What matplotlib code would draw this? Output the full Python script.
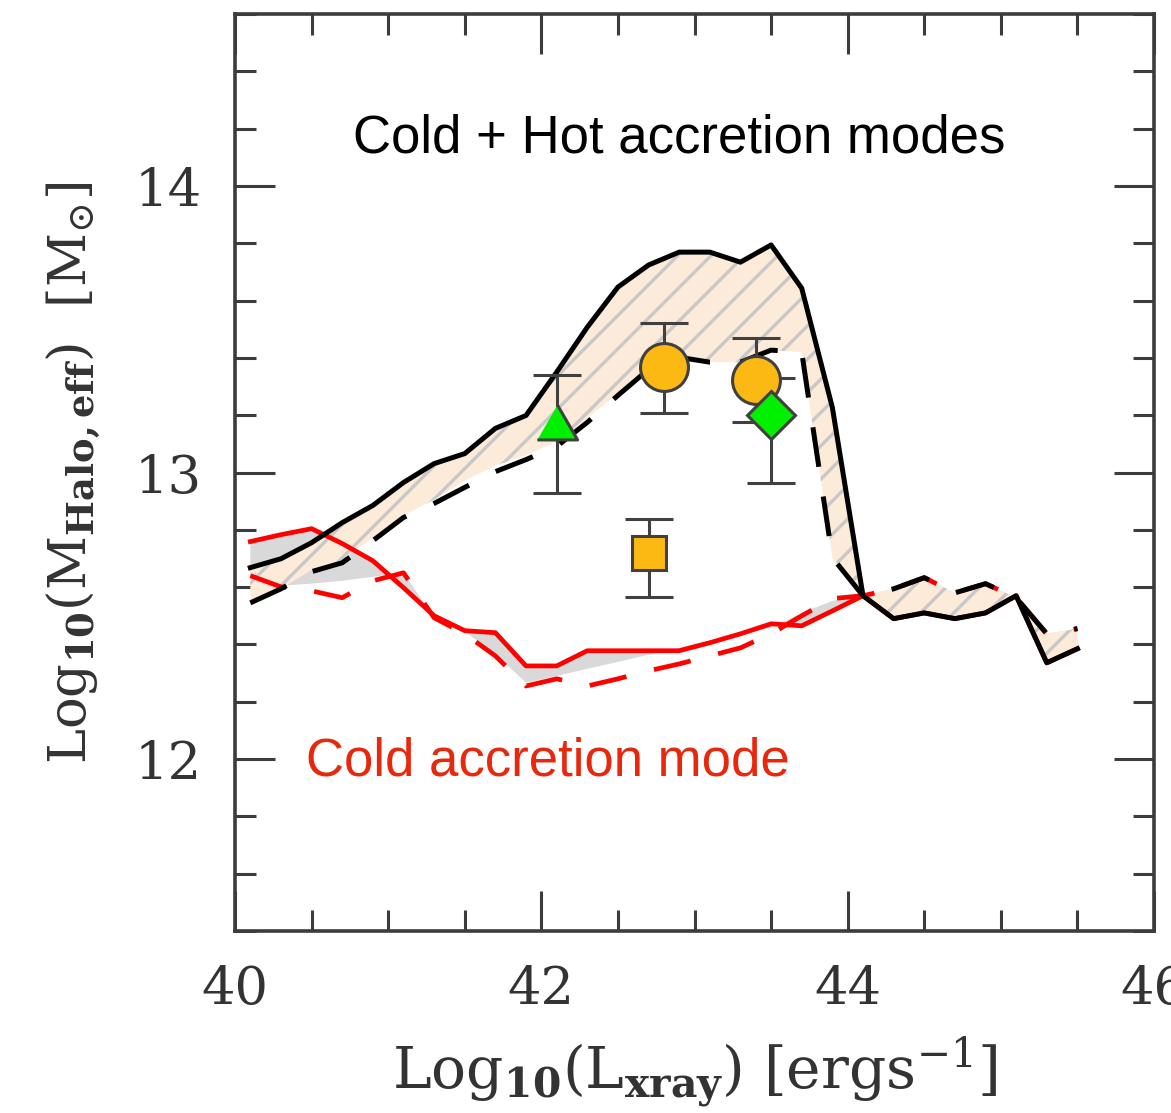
import matplotlib
matplotlib.use('Agg')
import matplotlib.pyplot as plt
from matplotlib.ticker import MultipleLocator

plt.rcParams['font.family'] = ['DejaVu Serif']
plt.rcParams['mathtext.fontset'] = 'dejavuserif'
plt.rcParams['hatch.linewidth'] = 2.4
plt.rcParams['hatch.color'] = '#c8c8c8'

# ---- data ----
log_lx = [40.1, 40.3, 40.5, 40.7, 40.9, 41.1, 41.3, 41.5, 41.7, 41.9,
          42.1, 42.3, 42.5, 42.7, 42.9, 43.1, 43.3, 43.5, 43.7, 43.9,
          44.1, 44.3, 44.5, 44.7, 44.9, 45.1, 45.3, 45.5]

# Cold + Hot accretion modes (upper: solid, lower: dashed)
hot_upper = [12.668, 12.699, 12.755, 12.825, 12.885, 12.965, 13.031, 13.066, 13.154, 13.199,
             13.350, 13.507, 13.647, 13.724, 13.769, 13.769, 13.734, 13.794, 13.643, 13.227,
             12.570, 12.490, 12.510, 12.490, 12.510, 12.570, 12.336, 12.385]
hot_lower = [12.545, 12.594, 12.654, 12.685, 12.762, 12.843, 12.892, 12.948, 13.003, 13.045,
             13.091, 13.175, 13.269, 13.360, 13.402, 13.385, 13.385, 13.427, 13.420, 12.703,
             12.570, 12.594, 12.633, 12.580, 12.612, 12.563, 12.437, 12.455]
# lower edge of the hatched band as painted (slightly smoother than the dashed line)
hot_band_lower = [12.545, 12.594, 12.660, 12.695, 12.772, 12.850, 12.905, 12.972, 13.024, 13.060,
                  13.108, 13.190, 13.275, 13.360, 13.402, 13.385, 13.385, 13.427, 13.420, 12.703,
                  12.570, 12.594, 12.633, 12.580, 12.612, 12.563, 12.437, 12.455]

# Cold accretion mode (upper: solid, lower: dashed)
cold_upper = [12.759, 12.783, 12.804, 12.752, 12.692, 12.598, 12.500, 12.448, 12.441, 12.325,
              12.325, 12.378, 12.378, 12.378, 12.378, 12.406, 12.437, 12.472, 12.465, 12.517,
              12.570, 12.490, 12.510, 12.490, 12.510, 12.570, 12.336, 12.385]
cold_lower = [12.640, 12.601, 12.587, 12.563, 12.622, 12.650, 12.493, 12.437, 12.360, 12.255,
              12.280, 12.255, 12.280, 12.308, 12.332, 12.360, 12.388, 12.437, 12.500, 12.560,
              12.570, 12.594, 12.633, 12.580, 12.612, 12.563, 12.437, 12.455]
# lower edge of the grey band as painted
cold_band_lower = [12.640, 12.605, 12.612, 12.622, 12.636, 12.650, 12.493, 12.445, 12.367, 12.266,
                   12.290, 12.315, 12.339, 12.364, 12.388, 12.413, 12.434, 12.458, 12.510, 12.552,
                   12.570, 12.594, 12.633, 12.580, 12.612, 12.563, 12.437, 12.455]

# Observational points
obs_x = [42.10, 42.80, 42.70, 43.40, 43.50]
obs_y = [13.177, 13.368, 12.720, 13.322, 13.199]
obs_err_lo = [0.250, 0.161, 0.154, 0.147, 0.237]
obs_err_hi = [0.163, 0.152, 0.119, 0.147, 0.130]
obs_marker = ['tri', 'o', 's', 'o', 'D']
obs_color = ['#00f000', '#fdb913', '#fdb913', '#fdb913', '#00f000']
obs_size = [29, 34.5, 24.5, 34.5, 24]

text_top = 'Cold + Hot accretion modes'
text_cold = 'Cold accretion mode'

# ---- figure ----
W, H = 1171, 1113
fig = plt.figure(figsize=(W / 100, H / 100), dpi=100)
ax = fig.add_axes([235 / W, 1 - 931 / H, (1154 - 235) / W, (931 - 14) / H])

ax.fill_between(log_lx, cold_upper, cold_band_lower, facecolor='#d9d9d9',
                edgecolor='none', linewidth=0, zorder=1)
ax.fill_between(log_lx, hot_upper, hot_band_lower, facecolor='#fcebd9',
                edgecolor='#c8c8c8', hatch='/', linewidth=0, zorder=2)

dash = (0, (8, 6))
ax.plot(log_lx, cold_upper, color='#ff0000', lw=3.4, zorder=3)
ax.plot(log_lx, cold_lower, color='#ff0000', lw=3.4, ls=dash, zorder=3)
ax.plot(log_lx, hot_upper, color='black', lw=3.6, zorder=4)
ax.plot(log_lx, hot_lower, color='black', lw=3.6, ls=dash, zorder=4)

tri = [(-1, -0.866), (1, -0.866), (0, 0.866)]
for x, y, lo, hi, m, c, s in zip(obs_x, obs_y, obs_err_lo, obs_err_hi,
                                 obs_marker, obs_color, obs_size):
    mk = tri if m == 'tri' else m
    ax.errorbar([x], [y], yerr=[[lo], [hi]], fmt='none', ecolor='#404040',
                elinewidth=2.2, capsize=17, capthick=2.2, zorder=5)
    ax.plot([x], [y], marker=mk, ms=s, mfc=c, mec='#404040', mew=2.2,
            ls='none', zorder=6)

ax.text(42.90, 14.165, text_top, fontsize=38, family='Liberation Sans',
        color='black', ha='center', va='center')
ax.text(42.04, 11.99, text_cold, fontsize=38, family='Liberation Sans',
        color='#e8280c', ha='center', va='center')

ax.set_xlim(40, 46)
ax.set_ylim(11.4, 14.6)
ax.xaxis.set_major_locator(MultipleLocator(2))
ax.xaxis.set_minor_locator(MultipleLocator(0.5))
ax.yaxis.set_major_locator(MultipleLocator(1))
ax.yaxis.set_minor_locator(MultipleLocator(0.2))
ax.tick_params(which='both', direction='in', top=True, right=True,
               color='#3c3c3c', width=2.2)
ax.tick_params(which='major', length=29, labelsize=38, labelcolor='#333333')
ax.tick_params(axis='x', which='major', pad=24)
ax.tick_params(axis='y', which='major', pad=24)
ax.tick_params(which='minor', length=15)
for sp in ax.spines.values():
    sp.set_color('#3c3c3c')
    sp.set_linewidth(2.6)

ax.set_xlabel(r'Log$_{\mathbf{10}}$(L$_{\mathbf{xray}}$) [ergs$^{-1}$]',
              fontsize=42, color='#333333')
ax.set_ylabel(r'Log$_{\mathbf{10}}$(M$_{\mathbf{Halo,eff}}$)  [M$_{\odot}$]',
              fontsize=38, color='#333333')
ax.xaxis.set_label_coords(0.5, -0.112)
ax.yaxis.set_label_coords(-0.145, 0.5)

fig.savefig('out.png', dpi=100)
